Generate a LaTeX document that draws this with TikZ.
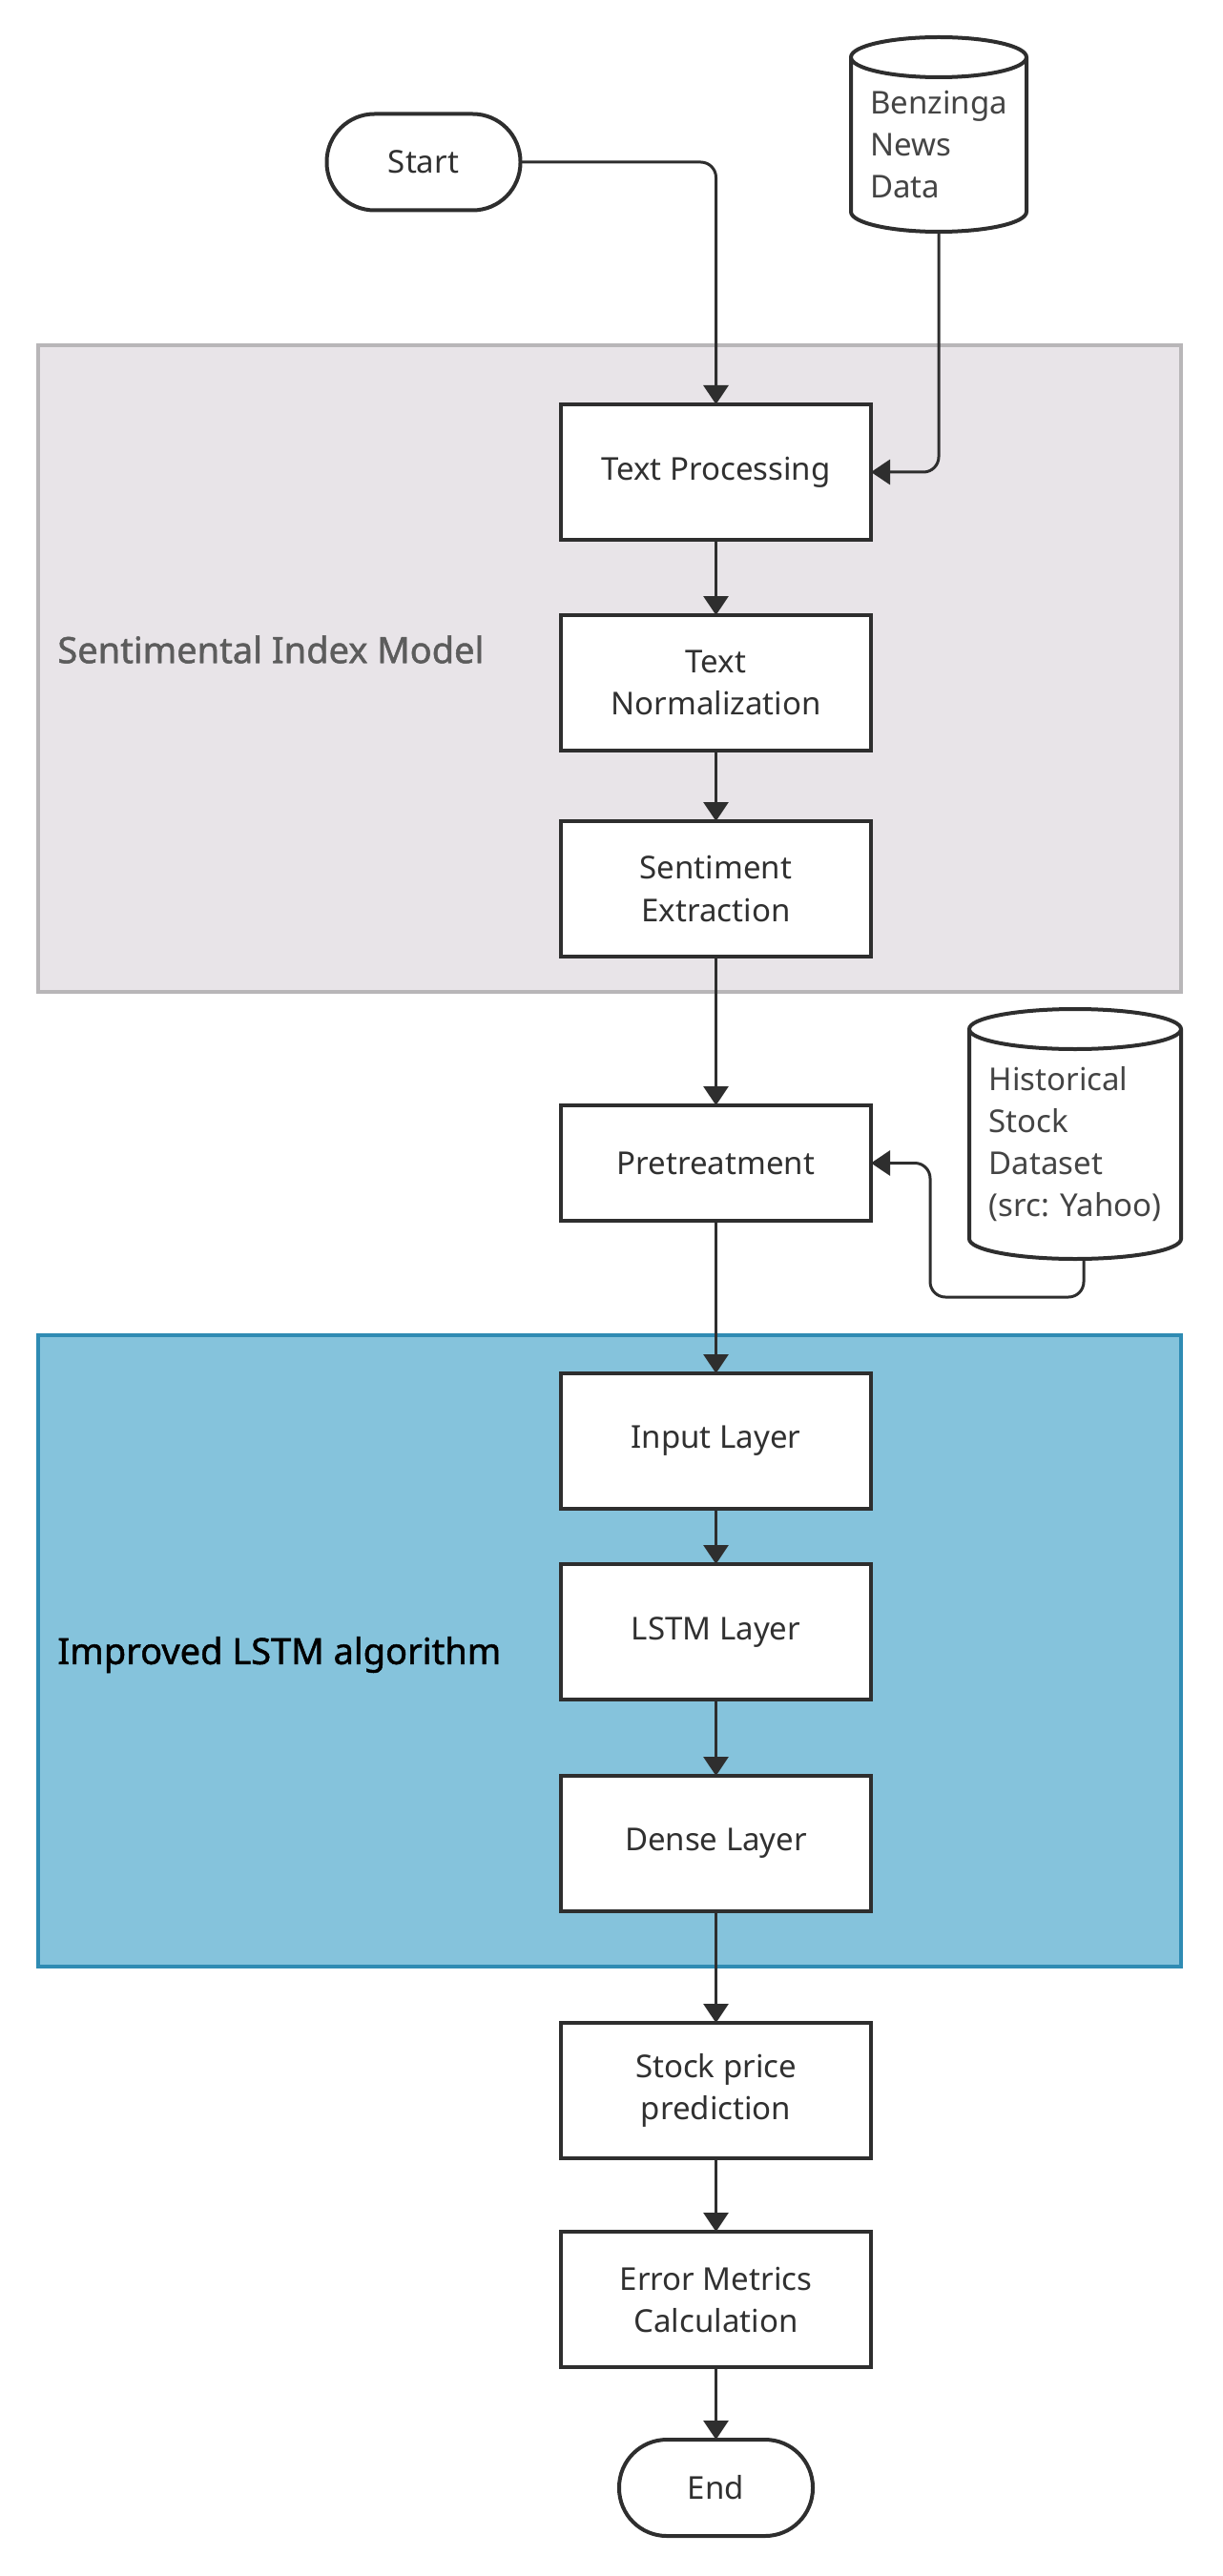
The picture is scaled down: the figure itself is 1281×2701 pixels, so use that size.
\documentclass[tikz,border=0pt]{standalone}
\usepackage{fontspec}
\setmainfont{Noto Sans}
\newfontfamily\headfam{Noto Sans}[FakeBold=1.3]
\usetikzlibrary{positioning, calc, arrows.meta}
\usepackage{xcolor}
\definecolor{lineC}{HTML}{2E2E2E}
\definecolor{txtC}{HTML}{303030}
\definecolor{storeC}{HTML}{444444}
\definecolor{grayF}{HTML}{E8E4E8}
\definecolor{grayD}{HTML}{B8B6B8}
\definecolor{blueF}{HTML}{85C3DC}
\definecolor{blueD}{HTML}{2F8BB3}
\definecolor{headG}{HTML}{5C5C5C}
\newcommand{\boxfont}{\fontsize{16.5pt}{22pt}\selectfont}
\newcommand{\headfont}{\headfam\fontsize{19pt}{22pt}\selectfont}
\tikzset{proc/.style={draw=lineC, line width=2pt, fill=white, minimum width=162.5pt, minimum height=71pt, align=center, text=txtC, font=\boxfont, inner sep=0pt, outer sep=0pt}}
\tikzset{term/.style={draw=lineC, line width=2pt, fill=white, rounded corners=25pt, minimum width=101.5pt, minimum height=50.5pt, text=txtC, font=\boxfont, outer sep=0pt}}
\tikzset{store/.style={minimum width=92pt, minimum height=81pt, inner sep=0pt, outer sep=0pt}}
\tikzset{storetxt/.style={align=left, text=storeC, font=\boxfont, inner sep=0pt}}
\tikzset{storeline/.style={draw=lineC, line width=2pt, fill=white}}
\tikzset{group/.style={line width=1.6pt, minimum width=599pt, inner sep=0pt, outer sep=0pt}}
\tikzset{head/.style={anchor=west, inner sep=0pt, font=\headfont}}
\tikzset{flow/.style={draw=lineC, line width=1.5pt, rounded corners=8pt, -{Triangle[length=10pt,width=13pt]}}}

\begin{document}
\begin{tikzpicture}[x=0.5pt, y=-0.5pt]
  \useasboundingbox (0,0) rectangle (1281,2701);

  % the two model groups
  \node[group, fill=grayF, draw=grayD, minimum height=339pt] (sentgrp) at (639,701) {};
  \node[group, fill=blueF, draw=blueD, minimum height=331pt] (lstmgrp) at (639,1731) {};
  \node[head, text=headG] (senthead) at (60,681) {Sentimental Index Model};
  \node[head, text=black] (lstmhead) at (60,1735) {Improved LSTM algorithm};

  % inputs
  \node[term] (start) at (444,170) {Start};
  \node[store] (news) at (984,141) {};
  \node[store, minimum width=111pt, minimum height=110pt] (hist) at (1127,1189) {};

  \foreach \n/\r in {news/46pt, hist/55.5pt}
    \draw[storeline] (\n.north west) -- (\n.south west)
      arc[start angle=180, end angle=360, x radius=\r, y radius=10.5pt] -- (\n.north east)
      arc[start angle=0, end angle=180, x radius=\r, y radius=10.5pt]
      arc[start angle=180, end angle=360, x radius=\r, y radius=10.5pt];
  \node[storetxt] (newstxt) at ($(news.center)+(0,10.5)$) {Benzinga\\News\\Data};
  \node[storetxt] (histtxt) at ($(hist.center)+(0,10.5)$) {Historical\\Stock\\Dataset\\(src: Yahoo)};

  % main column
  \node[proc, anchor=north] (tproc) at (750.5,424) {Text Processing};
  \node[proc, anchor=north] (tnorm) at ($(tproc.south)+(0,79)$) {Text\\Normalization};
  \node[proc, anchor=north] (sext) at ($(tnorm.south)+(0,74)$) {Sentiment\\Extraction};
  \node[proc, anchor=north, minimum height=60.5pt] (pret) at ($(sext.south)+(0,156)$) {Pretreatment};
  \node[proc, anchor=north] (inp) at ($(pret.south)+(0,160)$) {Input Layer};
  \node[proc, anchor=north] (lstm) at ($(inp.south)+(0,58)$) {LSTM Layer};
  \node[proc, anchor=north] (dense) at ($(lstm.south)+(0,80)$) {Dense Layer};
  \node[proc, anchor=north] (pred) at ($(dense.south)+(0,117)$) {Stock price\\prediction};
  \node[proc, anchor=north] (err) at ($(pred.south)+(0,77)$) {Error Metrics\\Calculation};
  \node[term, anchor=north] (stop) at ($(err.south)+(0,76)$) {End};

  % connectors
  \draw[flow] (start.east) -| (tproc.north);
  \coordinate (newsbot) at ($(news.south)+(0,21)$);
  \draw[flow] (newsbot) |- (tproc.east);
  \coordinate (histbot) at ($(hist.south)+(9,21)$);
  \coordinate (histturn) at (975,1360);
  \draw[flow] (histbot) |- (histturn) |- (pret.east);
  \foreach \a/\b in {tproc/tnorm, tnorm/sext, sext/pret, pret/inp, inp/lstm, lstm/dense, dense/pred, pred/err, err/stop}
    \draw[flow] (\a.south) -- (\b.north);
\end{tikzpicture}
\end{document}
